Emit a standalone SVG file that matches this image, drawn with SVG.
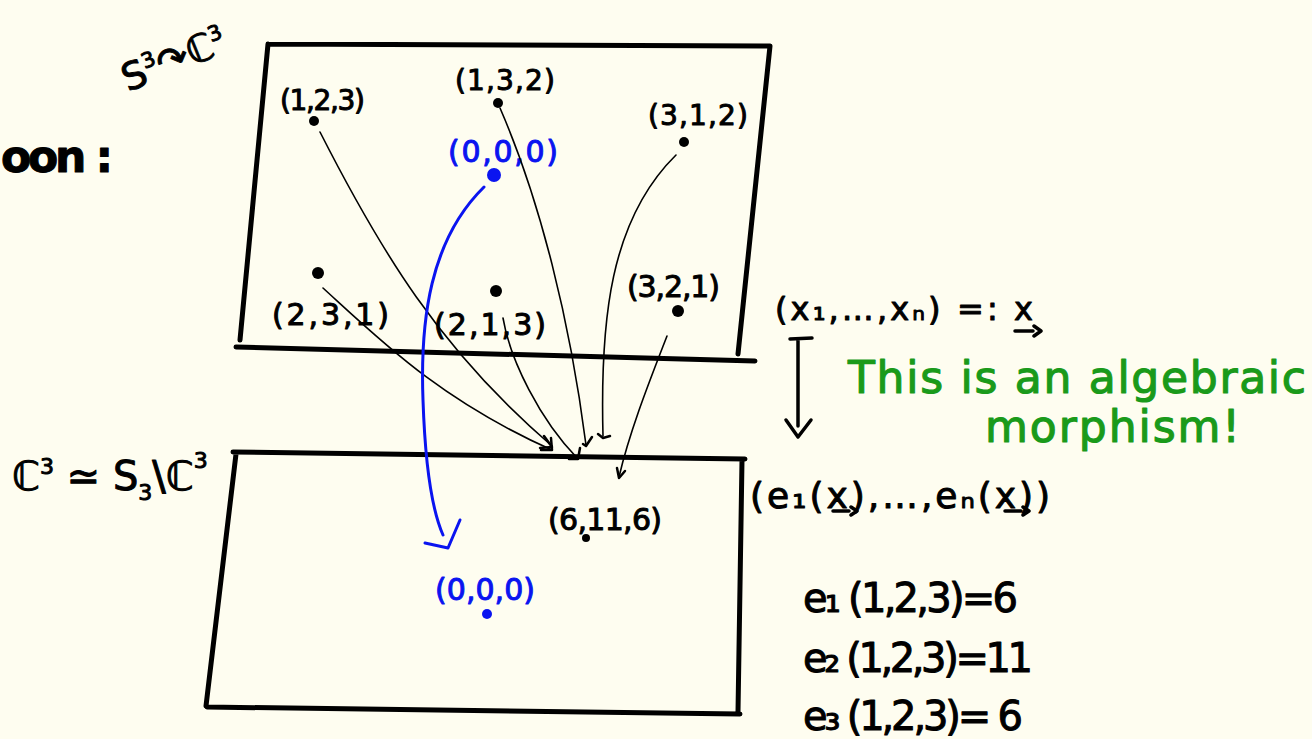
<svg xmlns="http://www.w3.org/2000/svg" width="1312" height="739" viewBox="0 0 1312 739">
<defs>
<style>
.frame{fill:none;stroke:#000;stroke-width:5;stroke-linecap:round;stroke-linejoin:round}
.conn{fill:none;stroke:#000;stroke-width:1.6;stroke-linecap:round;stroke-linejoin:round}
.head{fill:none;stroke:#000;stroke-width:2.5;stroke-linecap:round;stroke-linejoin:round}
.blue{fill:none;stroke:#0a14f0;stroke-width:3;stroke-linecap:round;stroke-linejoin:round}
.t{font-family:"DejaVu Sans",sans-serif;fill:#000;stroke:#000;stroke-width:1;stroke-linejoin:round}
.tb{font-family:"DejaVu Sans",sans-serif;fill:#0a14f0;stroke:#0a14f0;stroke-width:1;stroke-linejoin:round}
.tg{font-family:"DejaVu Sans",sans-serif;fill:#1a9a1a;stroke:#1a9a1a;stroke-width:1.2;stroke-linejoin:round}
.dot{fill:#000}
.bdot{fill:#0a14f0}
.pen{fill:none;stroke:#000;stroke-width:3.5;stroke-linecap:round;stroke-linejoin:round}
</style>
</defs>
<rect width="1312" height="739" fill="#fefdf0"/>

<g id="frames">
<path class="frame" d="M268,44 L770,46 M770,46 L738,354 M268,44 L240,340 M236,347 L755,361"/>
<path class="frame" d="M233,452 L745,459 M236,454 L206,706 M742,460 L738,712 M207,707 L740,714"/>
</g>

<g id="labels-left">
<text class="t" transform="translate(128,92) rotate(-22)" font-size="38">S<tspan font-size="21" dy="-15">3</tspan><tspan dy="15">↷ℂ</tspan><tspan font-size="21" dy="-15">3</tspan></text>
<text class="t" x="1" y="172" font-size="44" font-weight="bold" textLength="112" lengthAdjust="spacing">oon :</text>
<text class="t" x="12" y="490" font-size="40">ℂ<tspan font-size="22" dy="-16">3</tspan><tspan dy="16"> ≃ S</tspan><tspan font-size="22" dy="10">3</tspan><tspan dy="-10">\ℂ</tspan><tspan font-size="22" dy="-22">3</tspan></text>
</g>

<g id="node-123"><circle class="dot" cx="314" cy="121" r="5"/><text class="t" x="280" y="110" font-size="28" textLength="85" lengthAdjust="spacing">(1,2,3)</text></g>
<g id="node-132"><circle class="dot" cx="498" cy="103" r="5"/><text class="t" x="455" y="90" font-size="28" textLength="100" lengthAdjust="spacing">(1,3,2)</text></g>
<g id="node-312"><circle class="dot" cx="684" cy="142" r="5"/><text class="t" x="648" y="125" font-size="28" textLength="100" lengthAdjust="spacing">(3,1,2)</text></g>
<g id="node-000-top"><circle class="bdot" cx="494" cy="175" r="7"/><text class="tb" x="448" y="162" font-size="30" textLength="110" lengthAdjust="spacing">(0,0,0)</text></g>
<g id="node-231"><circle class="dot" cx="318" cy="273" r="6"/><text class="t" x="272" y="325" font-size="30" textLength="117" lengthAdjust="spacing">(2,3,1)</text></g>
<g id="node-213"><circle class="dot" cx="496" cy="291" r="6"/><text class="t" x="434" y="335" font-size="30" textLength="112" lengthAdjust="spacing">(2,1,3)</text></g>
<g id="node-321"><circle class="dot" cx="678" cy="311" r="6"/><text class="t" x="627" y="297" font-size="30" textLength="93" lengthAdjust="spacing">(3,2,1)</text></g>
<g id="node-6116"><circle class="dot" cx="586" cy="538" r="4"/><text class="t" x="548" y="530" font-size="30" textLength="114" lengthAdjust="spacing">(6,11,6)</text></g>
<g id="node-000-bottom"><circle class="bdot" cx="487" cy="614" r="5"/><text class="tb" x="435" y="600" font-size="30" textLength="100" lengthAdjust="spacing">(0,0,0)</text></g>

<g id="connectors">
<path class="conn" d="M320,132 C380,250 440,350 552,446"/>
<path class="head" d="M544,436 L552,447 L540,448"/>
<path class="conn" d="M323,288 C380,340 440,400 552,450"/>
<path class="head" d="M541,450 L552,450 L551,438"/>
<path class="conn" d="M503,318 C510,360 540,420 578,459"/>
<path class="head" d="M569,459 L578,459 L580,448"/>
<path class="conn" d="M500,108 C540,200 570,320 586,445"/>
<path class="head" d="M583,444 L586,446 L592,437"/>
<path class="conn" d="M676,155 C610,220 600,320 603,436"/>
<path class="head" d="M598,434 L603,438 L610,436"/>
<path class="conn" d="M667,336 C650,380 630,430 619,477"/>
<path class="head" d="M617,468 L619,478 L625,471"/>
<path class="blue" d="M484,187 C430,240 420,320 423,400 C425,460 432,510 443,535"/>
<path class="blue" stroke-width="4" d="M425,543 L448,548 L460,520"/>
<path class="pen" d="M790,339 L812,338 M798,340 L798,426 M786,420 L798,437 L811,420"/>
</g>

<g id="map-labels">
<text class="t" x="775" y="320" font-size="32" textLength="258" lengthAdjust="spacing">(x₁,…,xₙ) =: x</text>
<path class="pen" d="M1015,331 L1033,331 M1034,326 L1041,331 L1034,336"/>
<text class="tg" x="848" y="393" font-size="44" textLength="458" lengthAdjust="spacing">This is an algebraic</text>
<text class="tg" x="985" y="442" font-size="44" textLength="255" lengthAdjust="spacing">morphism!</text>
<text class="t" x="750" y="508" font-size="36" textLength="300" lengthAdjust="spacing">(e₁(x),…,eₙ(x))</text>
<path class="pen" d="M833,511 L849,511 M851,507 L857,511 L851,515 M1005,511 L1021,511 M1023,507 L1029,511 L1023,515"/>
<text class="t" x="803" y="612" font-size="40" textLength="215" lengthAdjust="spacing">e₁ (1,2,3)=6</text>
<text class="t" x="803" y="672" font-size="40" textLength="230" lengthAdjust="spacing">e₂ (1,2,3)=11</text>
<text class="t" x="803" y="730" font-size="40" textLength="220" lengthAdjust="spacing">e₃ (1,2,3)= 6</text>
</g>
</svg>
